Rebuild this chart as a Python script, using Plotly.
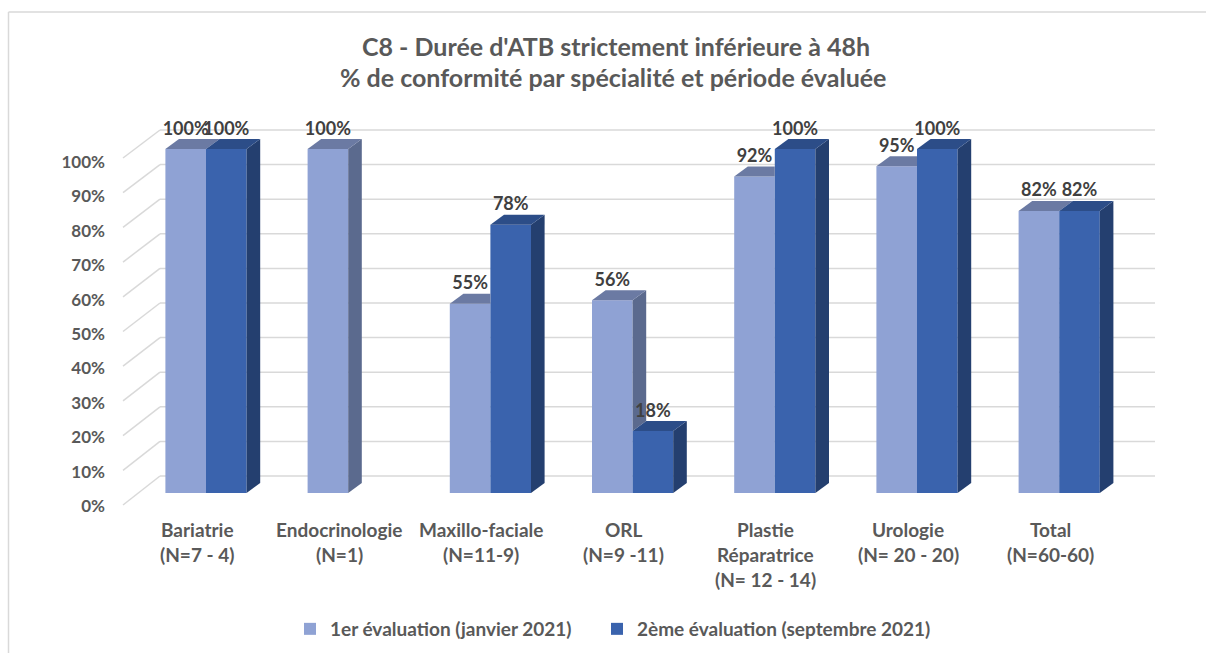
import plotly.graph_objects as go

# ---------------- data ----------------
categories = [
    "Bariatrie\n(N=7 - 4)",
    "Endocrinologie\n(N=1)",
    "Maxillo-faciale\n(N=11-9)",
    "ORL\n(N=9 -11)",
    "Plastie\nRéparatrice\n(N= 12 - 14)",
    "Urologie\n(N= 20 - 20)",
    "Total\n(N=60-60)",
]
eval1 = [100, 100, 55, 56, 92, 95, 82]
eval2 = [100, None, 78, 18, 100, 100, 82]
series_names = ["1er évaluation (janvier 2021)", "2ème évaluation (septembre 2021)"]
y_ticks = [0, 10, 20, 30, 40, 50, 60, 70, 80, 90, 100]
y_tick_labels = ["0%", "10%", "20%", "30%", "40%", "50%", "60%", "70%", "80%", "90%", "100%"]
title_lines = ["C8 - Durée d'ATB strictement inférieure à 48h",
               "% de conformité par spécialité et période évaluée"]

# ---------------- style ----------------
FONT = "Lato"
GREY = "#595959"
LABEL = "#404040"
GRID = "#d9d9d9"
FRONT = ["#8fa2d4", "#3a63ad"]
SIDE = ["#5b6a8e", "#243f6f"]
TOP = ["#6b7aa3", "#2c4d88"]

W, H = 1206, 653
PL, PR, PT, PB = 120, 1160, 120, 510          # plot area in px
CX0, CPITCH = 206, 142.2                        # px of first category centre, px per category
Y0PX, YPX = 493, 3.44                           # px of value 0, px per unit
BW = 40.6 / CPITCH                              # bar width (units)
DX = 13.6 / CPITCH                              # depth offset x (units)
DY = 10 / YPX                                   # depth offset y (units)
pw, ph = PR - PL, PB - PT
LEGEND_LEFT_PX = [290, 597]

xr = [(PL - CX0) / CPITCH, (PR - CX0) / CPITCH]
yr = [(Y0PX - PB) / YPX, (Y0PX - PT) / YPX]

fig = go.Figure()

# front faces (bars)
for s, vals in enumerate([eval1, eval2]):
    xs = [i + (s - 0.5) * BW for i in range(len(categories))]
    fig.add_trace(go.Bar(
        x=xs, y=vals, width=BW, name=series_names[s],
        marker=dict(color=FRONT[s], line=dict(width=0)),
        hoverinfo="skip", legend="legend" if s == 0 else "legend2",
    ))

# 3D side and top faces
def poly(xs, ys, color):
    fig.add_trace(go.Scatter(
        x=xs + [xs[0]], y=ys + [ys[0]], mode="lines", fill="toself",
        fillcolor=color, line=dict(width=0, color=color),
        showlegend=False, hoverinfo="skip",
    ))

for i in range(len(categories)):
    lv, dv = eval1[i], eval2[i]
    # light bar
    x0, x1 = i - BW, i
    base = dv if dv is not None else 0
    if lv > base:
        poly([x1, x1 + DX, x1 + DX, x1], [base, base + DY, lv + DY, lv], SIDE[0])
    if dv is not None and dv > lv:
        poly([x0, x1, x1, x0 + DX], [lv, lv, lv + DY, lv + DY], TOP[0])
    else:
        poly([x0, x1, x1 + DX, x0 + DX], [lv, lv, lv + DY, lv + DY], TOP[0])
    # dark bar
    if dv is not None:
        x0, x1 = i, i + BW
        poly([x1, x1 + DX, x1 + DX, x1], [0, DY, dv + DY, dv], SIDE[1])
        poly([x0, x1, x1 + DX, x0 + DX], [dv, dv, dv + DY, dv + DY], TOP[1])

# data labels
for s, vals in enumerate([eval1, eval2]):
    xs, ys, ts = [], [], []
    for i, v in enumerate(vals):
        if v is None:
            continue
        xs.append(i + (s - 0.5) * BW)
        ys.append(v + DY)
        ts.append(f"{v}%")
    fig.add_trace(go.Scatter(
        x=xs, y=ys, text=ts, mode="text", textposition="top center",
        textfont=dict(family=FONT, size=18, color=LABEL, weight="bold"),
        showlegend=False, hoverinfo="skip", cliponaxis=False,
    ))

# back-wall gridlines with floor diagonals
BACK_X0 = (160 - CX0) / CPITCH
BACK_X1 = (1155 - CX0) / CPITCH
FRONT_X = (123 - CX0) / CPITCH
shapes = []
for v in y_ticks:
    yb = (Y0PX - (476 - 3.46 * v)) / YPX
    yf = (Y0PX - (505 - 3.47 * v)) / YPX
    shapes.append(dict(type="line", xref="x", yref="y", x0=BACK_X0, x1=BACK_X1, y0=yb, y1=yb,
                       line=dict(color=GRID, width=1.5), layer="below"))
    shapes.append(dict(type="line", xref="x", yref="y", x0=FRONT_X, x1=BACK_X0, y0=yf, y1=yb,
                       line=dict(color=GRID, width=1.5), layer="below"))

# outer frame (left and top edges visible)
fx0, fy1 = (8.5 - PL) / pw, (PB - 12) / ph
shapes.append(dict(type="line", xref="paper", yref="paper", x0=fx0, x1=fx0,
                   y0=(PB - H - 5) / ph, y1=fy1, line=dict(color=GRID, width=1.5), layer="below"))
shapes.append(dict(type="line", xref="paper", yref="paper", x0=fx0, x1=(W + 5 - PL) / pw,
                   y0=fy1, y1=fy1, line=dict(color=GRID, width=1.5), layer="below"))

# category labels (one annotation per line)
annotations = []
for i, cat in enumerate(categories):
    for k, line in enumerate(cat.split("\n")):
        annotations.append(dict(
            x=i - 9 / CPITCH, xref="x", y=0, yref="paper", yanchor="middle",
            yshift=-(529 - PB) - 25 * k, text=line, showarrow=False,
            font=dict(family=FONT, size=19, color=GREY, weight="bold"),
        ))
# second title line
annotations.append(dict(
    x=(613 - PL) / pw, xref="paper", y=(PB - 77) / ph, yref="paper", yanchor="middle",
    text=title_lines[1], showarrow=False,
    font=dict(family=FONT, size=25, color=GREY, weight="bold"),
))

legend_style = dict(orientation="h", xanchor="left", y=(PB - 629) / ph, yanchor="middle",
                    font=dict(family=FONT, size=19, color=GREY, weight="bold"),
                    itemsizing="constant", bgcolor="rgba(0,0,0,0)")

fig.update_layout(
    width=W, height=H,
    margin=dict(l=PL, r=W - PR, t=PT, b=H - PB, pad=0, autoexpand=False),
    paper_bgcolor="white", plot_bgcolor="white",
    barmode="overlay",
    title=dict(text=title_lines[0], x=616 / W, xanchor="center", y=1 - 47 / H, yanchor="middle",
               xref="container", yref="container",
               font=dict(family=FONT, size=25, color=GREY, weight="bold")),
    xaxis=dict(range=xr, showgrid=False, zeroline=False, showticklabels=False, showline=False,
               fixedrange=True),
    yaxis=dict(range=yr, showgrid=False, zeroline=False, showline=False,
               tickvals=y_ticks, ticktext=y_tick_labels, ticks="",
               ticklabelshift=13, ticklabelstandoff=14,
               tickfont=dict(family=FONT, size=17, color=GREY, weight="bold")),
    legend=dict(x=(LEGEND_LEFT_PX[0] - PL) / pw, **legend_style),
    legend2=dict(x=(LEGEND_LEFT_PX[1] - PL) / pw, **legend_style),
    shapes=shapes, annotations=annotations,
    showlegend=True,
)

fig.write_html("out.html", config={"displayModeBar": False},
               post_script="document.body.style.margin='0';document.body.style.overflow='hidden';")
